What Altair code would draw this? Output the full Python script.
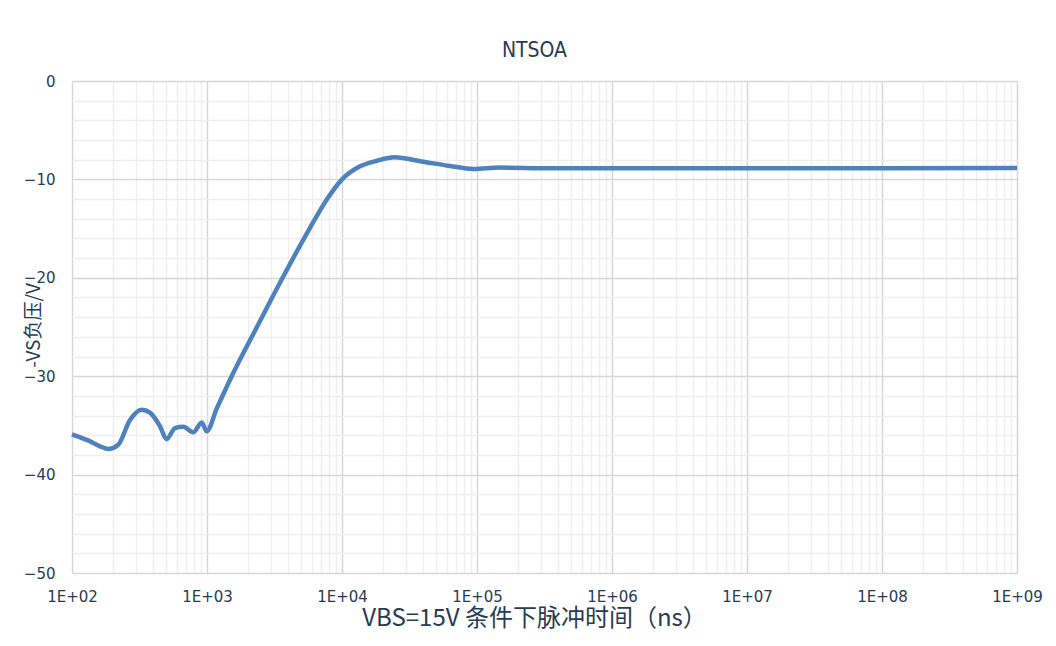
import altair as alt
import pandas as pd

# Pulse time (ns) and VS negative voltage (V)
time_ns = [100, 130, 160, 186, 219, 269, 328, 378, 449, 502, 579, 667, 792, 914, 995,
           1180, 1524, 2344, 3631, 5754, 7762, 10000, 13490, 18200, 24550, 39800,
           63100, 94000, 148000, 347000, 1e6, 1e7, 1e8, 1e9]
vs_neg = [-35.9, -36.5, -37.1, -37.4, -37.0, -34.45, -33.4, -33.7, -35.1, -36.4, -35.27,
          -35.13, -35.7, -34.7, -35.6, -33.3, -30.0, -25.0, -20.0, -15.0, -12.0,
          -10.0, -8.7, -8.1, -7.76, -8.2, -8.64, -8.94, -8.8, -8.87, -8.87, -8.87, -8.86,
          -8.85]

x_ticks = [m * 10 ** e for e in range(2, 9) for m in range(1, 10)] + [10 ** 9]
y_ticks = list(range(-50, 1, 2))

df = pd.DataFrame({"t": time_ns, "v": vs_neg})

is_decade = "abs(log(datum.value)/LN10 - round(log(datum.value)/LN10)) < 0.001"
x_label = ("(" + is_decade + ") ? '1E+' + (round(log(datum.value)/LN10) < 10 ? '0' : '') "
           "+ round(log(datum.value)/LN10) : ''")

text_color = "#263c54"
font = "Noto Sans CJK SC"
label_font = "DejaVu Sans"

chart = alt.Chart(df).mark_line(
    color="#4f81bd", strokeWidth=4.5, interpolate="monotone"
).encode(
    x=alt.X("t:Q",
            scale=alt.Scale(type="log", domain=[100, 1e9], nice=False),
            axis=alt.Axis(
                values=x_ticks, labelExpr=x_label, labelFlush=False, labelOverlap=False,
                ticks=False, domain=False, labelPadding=16, labelFontSize=15,
                labelColor=text_color, labelFont=label_font,
                gridColor={"condition": {"test": is_decade, "value": "#d6d6d6"}, "value": "#eeeeee"},
                gridWidth=1.5,
                title="VBS=15V 条件下脉冲时间（ns）", titleFontSize=24, titleFontWeight="normal",
                titleColor=text_color, titleFont=font, titlePadding=0, titleX=462,
                titleY=33, titleBaseline="top",
            )),
    y=alt.Y("v:Q",
            scale=alt.Scale(domain=[-50, 0], nice=False),
            axis=alt.Axis(
                values=y_ticks, labelExpr="datum.value % 10 == 0 ? datum.label : ''",
                labelOverlap=False, ticks=False, domain=False, labelPadding=17,
                labelFontSize=15, labelColor=text_color, labelFont=label_font,
                gridColor={"condition": {"test": "datum.value % 10 == 0", "value": "#d6d6d6"},
                           "value": "#eeeeee"},
                gridWidth=1.5,
                title="-VS负压/V", titleFontSize=19, titleFontWeight="normal",
                titleColor=text_color, titleFont=font, titleX=-39, titleY=244,
                titleAlign="center", titleBaseline="middle",
            )),
).properties(
    width=945, height=492,
    title=alt.TitleParams("NTSOA", fontSize=21, fontWeight=500, color=text_color,
                          font="Liberation Sans Narrow, DejaVu Sans Condensed, Roboto",
                          offset=13, dx=-10),
    autosize=alt.AutoSizeParams(type="none"),
    padding={"left": 64, "top": 73, "right": 30, "bottom": 70},
).configure_view(stroke=None)

chart.save("out.html", embed_options={"renderer": "svg", "actions": False})
